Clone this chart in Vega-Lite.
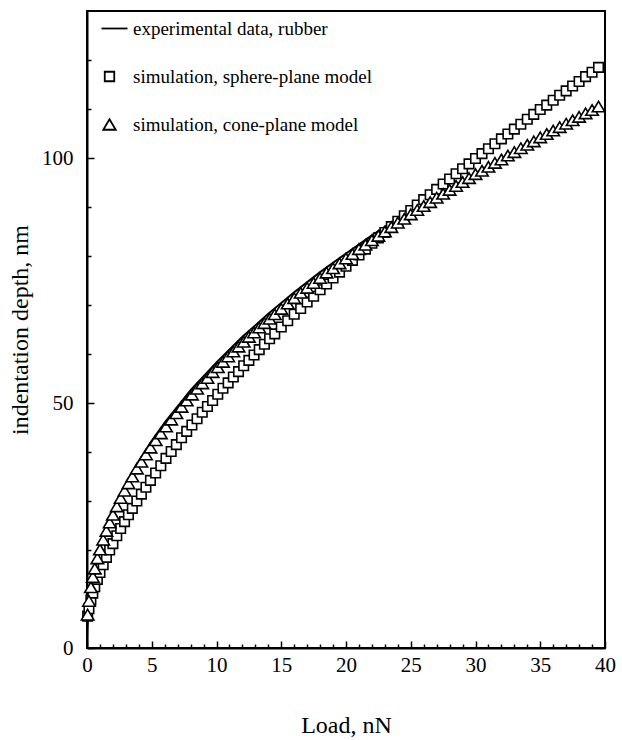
{
  "$schema": "https://vega.github.io/schema/vega-lite/v6.json",
  "autosize": {"type": "none"},
  "padding": {"left": 87, "top": 11, "right": 17, "bottom": 92},
  "width": 518,
  "height": 637,
  "background": "white",
  "config": {
    "font": "Liberation Serif",
    "view": {"stroke": "black", "strokeWidth": 2},
    "axis": {
      "grid": false,
      "domainColor": "black",
      "domainWidth": 2,
      "tickColor": "black",
      "tickWidth": 1.5,
      "labelColor": "black",
      "labelFont": "Liberation Serif",
      "labelFontSize": 21,
      "labelFlush": false,
      "titleColor": "black",
      "titleFont": "Liberation Serif",
      "titleFontSize": 24,
      "titleFontWeight": "normal"
    },
    "legend": {
      "labelFont": "Liberation Serif",
      "labelFontSize": 19,
      "labelColor": "black",
      "labelLimit": 0
    }
  },
  "datasets": {
    "exp": [
      {"x": 0, "y": 0}, {"x": 0.02, "y": 3.2}, {"x": 0.05, "y": 5.0}, {"x": 0.1, "y": 6.9}, {"x": 0.2, "y": 9.5},
      {"x": 0.4, "y": 13.1}, {"x": 0.7, "y": 16.9}, {"x": 1, "y": 20.0}, {"x": 1.5, "y": 24.2}, {"x": 2, "y": 27.6},
      {"x": 3, "y": 33.3}, {"x": 4, "y": 38.1}, {"x": 5, "y": 42.3}, {"x": 6, "y": 46.0}, {"x": 8, "y": 52.6},
      {"x": 10, "y": 58.3}, {"x": 12, "y": 63.5}, {"x": 14, "y": 68.2}, {"x": 16, "y": 72.6}, {"x": 18, "y": 76.7},
      {"x": 20, "y": 80.5}, {"x": 22, "y": 84.2}, {"x": 24, "y": 87.7}, {"x": 26, "y": 90.8}, {"x": 28, "y": 93.8},
      {"x": 30, "y": 96.7}, {"x": 32, "y": 99.6}, {"x": 34, "y": 102.4}, {"x": 36, "y": 105.1}, {"x": 38, "y": 107.8},
      {"x": 39.6, "y": 110.0}
    ],
    "sim": [
      {"s": "sph", "x": 0.05, "y": 6.5}, {"s": "sph", "x": 0.15, "y": 8.0}, {"s": "sph", "x": 0.3, "y": 9.8}, {"s": "sph", "x": 0.45, "y": 11.2},
      {"s": "sph", "x": 0.6, "y": 12.5}, {"s": "sph", "x": 0.8, "y": 14.0}, {"s": "sph", "x": 1.0, "y": 15.4}, {"s": "sph", "x": 1.25, "y": 17.0},
      {"s": "sph", "x": 1.5, "y": 18.5}, {"s": "sph", "x": 1.75, "y": 20.0}, {"s": "sph", "x": 2.0, "y": 21.3}, {"s": "sph", "x": 2.3, "y": 22.9},
      {"s": "sph", "x": 2.6, "y": 24.4}, {"s": "sph", "x": 2.9, "y": 25.8}, {"s": "sph", "x": 3.2, "y": 27.2}, {"s": "sph", "x": 3.5, "y": 28.5},
      {"s": "sph", "x": 3.85, "y": 30.0}, {"s": "sph", "x": 4.2, "y": 31.4}, {"s": "sph", "x": 4.55, "y": 32.8}, {"s": "sph", "x": 4.9, "y": 34.2},
      {"s": "sph", "x": 5.3, "y": 35.7}, {"s": "sph", "x": 5.7, "y": 37.2}, {"s": "sph", "x": 6.1, "y": 38.7}, {"s": "sph", "x": 6.5, "y": 40.1},
      {"s": "sph", "x": 6.9, "y": 41.5}, {"s": "sph", "x": 7.3, "y": 42.9}, {"s": "sph", "x": 7.7, "y": 44.2}, {"s": "sph", "x": 8.1, "y": 45.5},
      {"s": "sph", "x": 8.5, "y": 46.8}, {"s": "sph", "x": 8.9, "y": 48.1}, {"s": "sph", "x": 9.3, "y": 49.3}, {"s": "sph", "x": 9.7, "y": 50.5},
      {"s": "sph", "x": 10.1, "y": 51.8}, {"s": "sph", "x": 10.5, "y": 53.0}, {"s": "sph", "x": 10.9, "y": 54.1}, {"s": "sph", "x": 11.3, "y": 55.3},
      {"s": "sph", "x": 11.7, "y": 56.4}, {"s": "sph", "x": 12.1, "y": 57.6}, {"s": "sph", "x": 12.5, "y": 58.7}, {"s": "sph", "x": 12.9, "y": 59.8},
      {"s": "sph", "x": 13.3, "y": 60.9}, {"s": "sph", "x": 13.7, "y": 62.0}, {"s": "sph", "x": 14.1, "y": 63.1}, {"s": "sph", "x": 14.5, "y": 64.1},
      {"s": "sph", "x": 15.0, "y": 65.5}, {"s": "sph", "x": 15.5, "y": 66.8}, {"s": "sph", "x": 16.0, "y": 68.1}, {"s": "sph", "x": 16.5, "y": 69.3},
      {"s": "sph", "x": 17.0, "y": 70.6}, {"s": "sph", "x": 17.5, "y": 71.8}, {"s": "sph", "x": 18.0, "y": 73.1}, {"s": "sph", "x": 18.5, "y": 74.3},
      {"s": "sph", "x": 19.0, "y": 75.5}, {"s": "sph", "x": 19.5, "y": 76.7}, {"s": "sph", "x": 20.0, "y": 77.9}, {"s": "sph", "x": 20.5, "y": 79.1},
      {"s": "sph", "x": 21.0, "y": 80.2}, {"s": "sph", "x": 21.5, "y": 81.4}, {"s": "sph", "x": 22.0, "y": 82.6}, {"s": "sph", "x": 22.5, "y": 83.7},
      {"s": "sph", "x": 23.0, "y": 84.8}, {"s": "sph", "x": 23.5, "y": 86.0}, {"s": "sph", "x": 24.0, "y": 87.1}, {"s": "sph", "x": 24.5, "y": 88.2},
      {"s": "sph", "x": 25.0, "y": 89.3}, {"s": "sph", "x": 25.5, "y": 90.4}, {"s": "sph", "x": 26.0, "y": 91.5}, {"s": "sph", "x": 26.5, "y": 92.5},
      {"s": "sph", "x": 27.0, "y": 93.6}, {"s": "sph", "x": 27.5, "y": 94.7}, {"s": "sph", "x": 28.0, "y": 95.7}, {"s": "sph", "x": 28.5, "y": 96.8},
      {"s": "sph", "x": 29.0, "y": 97.8}, {"s": "sph", "x": 29.5, "y": 98.8}, {"s": "sph", "x": 30.0, "y": 99.9}, {"s": "sph", "x": 30.5, "y": 100.9},
      {"s": "sph", "x": 31.0, "y": 101.9}, {"s": "sph", "x": 31.5, "y": 102.9}, {"s": "sph", "x": 32.0, "y": 103.9}, {"s": "sph", "x": 32.5, "y": 104.9},
      {"s": "sph", "x": 33.0, "y": 105.9}, {"s": "sph", "x": 33.5, "y": 106.9}, {"s": "sph", "x": 34.0, "y": 107.9}, {"s": "sph", "x": 34.5, "y": 108.9},
      {"s": "sph", "x": 35.0, "y": 109.9}, {"s": "sph", "x": 35.5, "y": 110.8}, {"s": "sph", "x": 36.0, "y": 111.8}, {"s": "sph", "x": 36.5, "y": 112.8},
      {"s": "sph", "x": 37.0, "y": 113.7}, {"s": "sph", "x": 37.5, "y": 114.7}, {"s": "sph", "x": 38.0, "y": 115.6}, {"s": "sph", "x": 38.5, "y": 116.6},
      {"s": "sph", "x": 39.0, "y": 117.5}, {"s": "sph", "x": 39.5, "y": 118.5},
      {"s": "cone", "x": 0.05, "y": 6.8}, {"s": "cone", "x": 0.15, "y": 9.6}, {"s": "cone", "x": 0.3, "y": 12.4}, {"s": "cone", "x": 0.45, "y": 14.5},
      {"s": "cone", "x": 0.6, "y": 16.2}, {"s": "cone", "x": 0.8, "y": 18.3}, {"s": "cone", "x": 1.0, "y": 20.1}, {"s": "cone", "x": 1.25, "y": 22.1},
      {"s": "cone", "x": 1.5, "y": 23.9}, {"s": "cone", "x": 1.75, "y": 25.6}, {"s": "cone", "x": 2.0, "y": 27.2}, {"s": "cone", "x": 2.3, "y": 28.9},
      {"s": "cone", "x": 2.6, "y": 30.6}, {"s": "cone", "x": 2.9, "y": 32.1}, {"s": "cone", "x": 3.2, "y": 33.6}, {"s": "cone", "x": 3.5, "y": 35.0},
      {"s": "cone", "x": 3.85, "y": 36.6}, {"s": "cone", "x": 4.2, "y": 38.0}, {"s": "cone", "x": 4.55, "y": 39.5}, {"s": "cone", "x": 4.9, "y": 40.9},
      {"s": "cone", "x": 5.3, "y": 42.4}, {"s": "cone", "x": 5.7, "y": 43.8}, {"s": "cone", "x": 6.1, "y": 45.2}, {"s": "cone", "x": 6.5, "y": 46.6},
      {"s": "cone", "x": 6.9, "y": 47.9}, {"s": "cone", "x": 7.3, "y": 49.2}, {"s": "cone", "x": 7.7, "y": 50.5}, {"s": "cone", "x": 8.1, "y": 51.7},
      {"s": "cone", "x": 8.5, "y": 52.9}, {"s": "cone", "x": 8.9, "y": 54.0}, {"s": "cone", "x": 9.3, "y": 55.1}, {"s": "cone", "x": 9.7, "y": 56.3},
      {"s": "cone", "x": 10.1, "y": 57.3}, {"s": "cone", "x": 10.5, "y": 58.4}, {"s": "cone", "x": 10.9, "y": 59.5}, {"s": "cone", "x": 11.3, "y": 60.5},
      {"s": "cone", "x": 11.7, "y": 61.5}, {"s": "cone", "x": 12.1, "y": 62.5}, {"s": "cone", "x": 12.5, "y": 63.5}, {"s": "cone", "x": 12.9, "y": 64.4},
      {"s": "cone", "x": 13.3, "y": 65.4}, {"s": "cone", "x": 13.7, "y": 66.3}, {"s": "cone", "x": 14.1, "y": 67.2}, {"s": "cone", "x": 14.5, "y": 68.1},
      {"s": "cone", "x": 15.0, "y": 69.2}, {"s": "cone", "x": 15.5, "y": 70.3}, {"s": "cone", "x": 16.0, "y": 71.4}, {"s": "cone", "x": 16.5, "y": 72.5},
      {"s": "cone", "x": 17.0, "y": 73.5}, {"s": "cone", "x": 17.5, "y": 74.5}, {"s": "cone", "x": 18.0, "y": 75.5}, {"s": "cone", "x": 18.5, "y": 76.6},
      {"s": "cone", "x": 19.0, "y": 77.5}, {"s": "cone", "x": 19.5, "y": 78.5}, {"s": "cone", "x": 20.0, "y": 79.5}, {"s": "cone", "x": 20.5, "y": 80.4},
      {"s": "cone", "x": 21.0, "y": 81.4}, {"s": "cone", "x": 21.5, "y": 82.3}, {"s": "cone", "x": 22.0, "y": 83.2}, {"s": "cone", "x": 22.5, "y": 84.1},
      {"s": "cone", "x": 23.0, "y": 85.0}, {"s": "cone", "x": 23.5, "y": 85.9}, {"s": "cone", "x": 24.0, "y": 86.8}, {"s": "cone", "x": 24.5, "y": 87.6},
      {"s": "cone", "x": 25.0, "y": 88.5}, {"s": "cone", "x": 25.5, "y": 89.4}, {"s": "cone", "x": 26.0, "y": 90.2}, {"s": "cone", "x": 26.5, "y": 91.0},
      {"s": "cone", "x": 27.0, "y": 91.9}, {"s": "cone", "x": 27.5, "y": 92.7}, {"s": "cone", "x": 28.0, "y": 93.5}, {"s": "cone", "x": 28.5, "y": 94.3},
      {"s": "cone", "x": 29.0, "y": 95.1}, {"s": "cone", "x": 29.5, "y": 95.9}, {"s": "cone", "x": 30.0, "y": 96.7}, {"s": "cone", "x": 30.5, "y": 97.4},
      {"s": "cone", "x": 31.0, "y": 98.2}, {"s": "cone", "x": 31.5, "y": 99.0}, {"s": "cone", "x": 32.0, "y": 99.7}, {"s": "cone", "x": 32.5, "y": 100.5},
      {"s": "cone", "x": 33.0, "y": 101.2}, {"s": "cone", "x": 33.5, "y": 102.0}, {"s": "cone", "x": 34.0, "y": 102.7}, {"s": "cone", "x": 34.5, "y": 103.4},
      {"s": "cone", "x": 35.0, "y": 104.2}, {"s": "cone", "x": 35.5, "y": 104.9}, {"s": "cone", "x": 36.0, "y": 105.6}, {"s": "cone", "x": 36.5, "y": 106.3},
      {"s": "cone", "x": 37.0, "y": 107.0}, {"s": "cone", "x": 37.5, "y": 107.7}, {"s": "cone", "x": 38.0, "y": 108.4}, {"s": "cone", "x": 38.5, "y": 109.1},
      {"s": "cone", "x": 39.0, "y": 109.8}, {"s": "cone", "x": 39.5, "y": 110.5}
    ]
  },
  "layer": [
    {
      "data": {"name": "exp"},
      "mark": {"type": "line", "stroke": "black", "strokeWidth": 2},
      "encoding": {
        "x": {
          "field": "x", "type": "quantitative",
          "scale": {"domain": [0, 40], "nice": false, "zero": false},
          "axis": {"orient": "bottom", "values": [0, 5, 10, 15, 20, 25, 30, 35, 40], "tickSize": -7, "labelPadding": 13, "title": "Load, nN", "titlePadding": 38}
        },
        "y": {
          "field": "y", "type": "quantitative",
          "scale": {"domain": [0, 130], "nice": false},
          "axis": {"orient": "left", "values": [0, 50, 100], "tickSize": -7, "labelPadding": 21, "title": "indentation depth, nm", "titlePadding": 9}
        }
      }
    },
    {
      "data": {"name": "sim"},
      "mark": {"type": "point", "filled": false, "color": "black", "strokeWidth": 1.6, "size": 100},
      "encoding": {
        "x": {
          "field": "x", "type": "quantitative",
          "axis": {"orient": "bottom", "values": [1, 2, 3, 4, 6, 7, 8, 9, 11, 12, 13, 14, 16, 17, 18, 19, 21, 22, 23, 24, 26, 27, 28, 29, 31, 32, 33, 34, 36, 37, 38, 39], "tickSize": -4, "labels": false, "domain": false, "title": null}
        },
        "y": {
          "field": "y", "type": "quantitative",
          "axis": {"orient": "left", "values": [10, 20, 30, 40, 60, 70, 80, 90, 110, 120], "tickSize": -4, "labels": false, "domain": false, "title": null}
        },
        "fill": {"value": "white"},
        "opacity": {"value": 1},
        "shape": {
          "field": "s", "type": "nominal",
          "scale": {"domain": ["exp", "sph", "cone"], "range": ["M-1.6,0L3.6,0", "M-0.95,-0.95L0.95,-0.95L0.95,0.95L-0.95,0.95Z", "M0,-1.05L1.25,1.05L-1.25,1.05Z"]},
          "legend": {
            "orient": "none", "legendX": 13, "legendY": 8, "title": null,
            "labelOffset": 14, "rowPadding": 28, "symbolSize": 100, "symbolStrokeWidth": 1.8, "symbolOpacity": 1,
            "labelExpr": "datum.label == 'exp' ? 'experimental data, rubber' : datum.label == 'sph' ? 'simulation, sphere-plane model' : 'simulation, cone-plane model'"
          }
        }
      }
    }
  ],
  "resolve": {"axis": {"x": "independent", "y": "independent"}}
}
